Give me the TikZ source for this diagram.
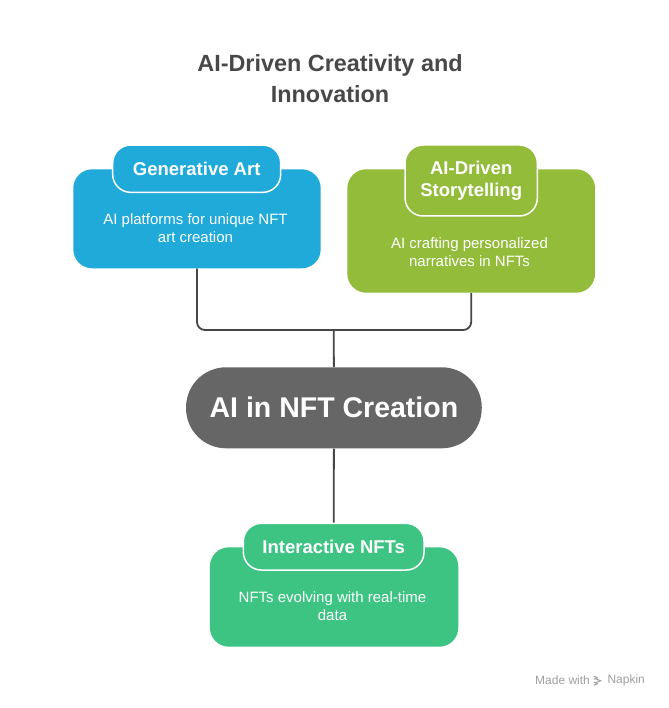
\documentclass[tikz,border=0pt]{standalone}
\usepackage{fontspec}
\setmainfont{Liberation Sans}
\definecolor{blueC}{HTML}{1FAAD9}
\definecolor{greenC}{HTML}{92BC3A}
\definecolor{mintC}{HTML}{3DC483}
\definecolor{coreC}{HTML}{666666}
\definecolor{titleC}{HTML}{484848}
\definecolor{lineC}{HTML}{464646}
\definecolor{markC}{HTML}{A0A0A0}
\tikzset{
  card/.style={rounded corners=19pt, inner sep=0pt},
  pill/.style={rounded corners=18pt, draw=white, line width=1.5pt, inner sep=0pt,
    text=white, align=center, font=\bfseries\fontsize{18.5}{22}\selectfont},
  desc/.style={text=white, align=center, inner sep=0pt, font=\fontsize{15}{18}\selectfont},
  conn/.style={draw=lineC, line width=1.8pt, rounded corners=8pt},
  brandtext/.style={text=markC, anchor=west, inner sep=0pt, font=\fontsize{12}{14}\selectfont},
}
\begin{document}
\begin{tikzpicture}[x=1pt,y=-1pt]
\useasboundingbox[fill=white] (0,0) rectangle (668,708);

% title
\node[text=titleC, align=center, inner sep=0pt, font=\bfseries\fontsize{23.4}{31}\selectfont] (title) at (330,79) {AI-Driven Creativity and\\Innovation};

% cards
\node[card, fill=blueC, minimum width=247.4pt, minimum height=99pt] (ga) at (197,218.8) {};
\node[card, fill=greenC, minimum width=247.7pt, minimum height=123.4pt] (ds) at (471.2,231) {};
\node[card, fill=mintC, minimum width=248.3pt, minimum height=99.4pt] (it) at (334.1,597) {};

% pills
\node[pill, fill=blueC, minimum width=168pt, minimum height=47.3pt] (gap) at (196.7,168.7) {Generative Art};
\node[pill, fill=greenC, minimum width=132.3pt, minimum height=71pt] (dsp) at (471.2,180.5) {AI-Driven\\Storytelling};
\node[pill, fill=mintC, minimum width=180.7pt, minimum height=46.7pt] (itp) at (333.7,546.7) {Interactive NFTs};

% descriptions
\node[desc] (gad) at (195.5,228) {AI platforms for unique NFT\\art creation};
\node[desc] (dsd) at (469.5,252) {AI crafting personalized\\narratives in NFTs};
\node[desc] (itd) at (332.5,606) {NFTs evolving with real-time\\data};

% core
\node[fill=coreC, rounded corners=40pt, minimum width=295.7pt, minimum height=81pt, inner sep=0pt,
  text=white, font=\bfseries\fontsize{28.5}{32}\selectfont] (core) at (333.9,407.8) {AI in NFT Creation};

% connectors
\coordinate (j) at (333.7,330);
\draw[conn] (ga.south) |- (j) -| (ds.south);
\draw[conn] (j) -- (core.north);
\draw[conn] (core.south) -- (itp.north);

% watermark
\node[brandtext] (made) at (535,680.7) {Made with};
\node[brandtext] (napkin) at (607.3,680.7) {Napkin};
\coordinate (logo) at (597.5,680.7);
\draw[markC, line width=1pt, line cap=round, line join=round]
  ([shift={(-3.5,-4.5)}]logo) -- ([shift={(0,-3)}]logo) -- ([shift={(-3.5,-1.5)}]logo)
  ([shift={(-1,-1.5)}]logo) -- ([shift={(3.5,0)}]logo) -- ([shift={(-1,1.5)}]logo)
  ([shift={(-3.5,1.5)}]logo) -- ([shift={(0,3)}]logo) -- ([shift={(-3.5,4.5)}]logo);
\end{tikzpicture}
\end{document}
